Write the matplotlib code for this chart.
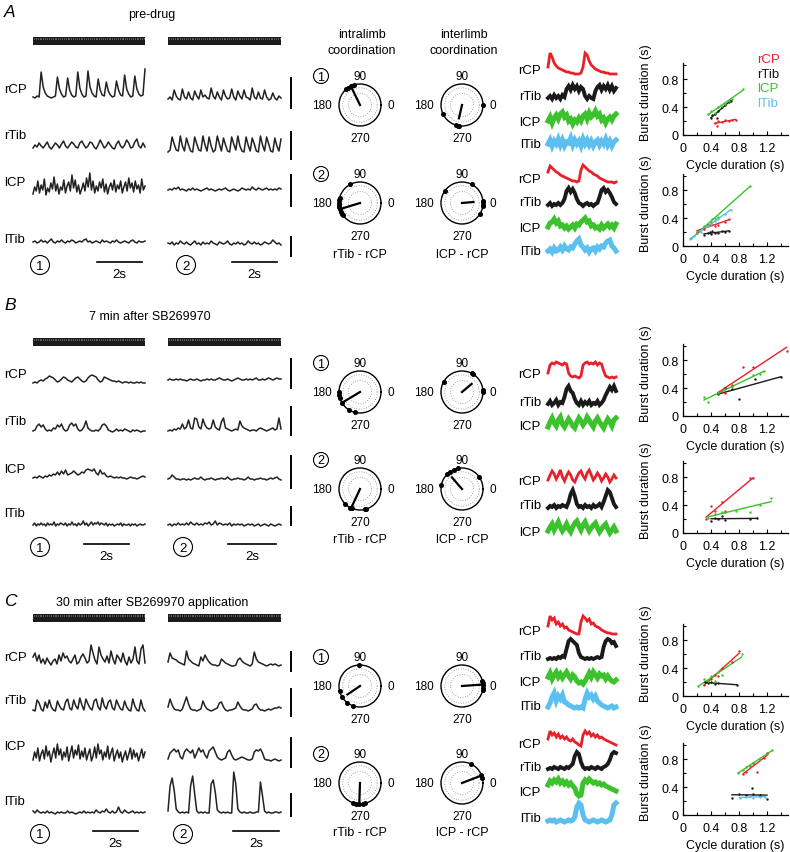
import numpy as np
import matplotlib.pyplot as plt
from matplotlib.patches import Circle, Rectangle

plt.rcParams['font.family'] = ['Liberation Sans', 'DejaVu Sans']
plt.rcParams['font.size'] = 8.5

W, H = 790, 853
RED, BLACK, GREEN, BLUE = '#e8202a', '#1a1a1a', '#3cc22c', '#5bc0f0'
muscles = ['rCP', 'rTib', 'lCP', 'lTib']
mcol = {'rCP': RED, 'rTib': BLACK, 'lCP': GREEN, 'lTib': BLUE}

# ---- raw EMG sweeps (height above baseline, px of the original figure) ----
a1_rcp = [2,1,3,2,27,12,6,3,2,1,2,3,22,10,5,2,3,21,9,4,2,3,27,11,5,2,3,28,12,6,3,2,20,9,4,3,17,8,4,2,3,18,9,4,3,24,10,5,2,3,23,10,5,3,4,30]
a1_rtib = [3,6,4,8,5,3,6,9,4,2,5,8,6,3,7,10,5,3,6,9,7,4,3,8,10,6,3,5,9,8,4,2,6,11,7,3,5,9,6,3,2,7,10,5,3,6,11,8,3,4,9,12,5,3,8,4]
a1_lcp = [5,12,8,18,6,14,9,20,4,11,7,16,10,22,8,15,5,12,9,19,6,13,17,8,24,11,19,7,14,5,10,16,8,21,12,26,9,18,6,13,8,17,11,20,7,15,5,12,16,9,19,7,14,10,18,6,12,17,8,21,11,16,7,18,10,14,6,20,9,13]
a1_ltib = [2,3,1,2,4,2,3,1,3,5,2,1,3,2,4,2,1,3,2,4,3,1,2,3,2,4,5,2,3,1,2,3,2,1,4,2,3,2,1,3,2,4,2,1,2,3,2,1,3,4,2,1,3,2,2,3]
a2_rcp = [3,5,2,12,6,3,2,13,5,3,10,4,2,11,6,3,12,5,7,4,3,14,6,3,10,5,2,12,6,3,4,13,5,2,11,6,3,12,5,4,2,14,5,3,10,4,3,12,5,2,3,9,4,2,6,4]
a2_rtib = [2,4,17,10,4,3,18,8,3,16,9,3,2,17,10,4,3,18,9,3,17,8,2,4,18,10,3,16,9,3,2,17,10,4,18,8,3,2,17,9,3,16,10,3,2,18,9,3,17,10,3,2,16,8,3,15]
a2_lcp = [2,3,2,4,3,5,2,3,2,1,3,2,4,2,3,2,1,2,3,4,2,3,2,1,2,3,2,3,4,2,1,2,3,2,1,2,4,3,2,3,2,5,3,2,4,3,2,3,4,2,3,2,3,2,4,3]
a2_ltib = [3,2,4,1,3,2,5,3,2,4,2,1,3,5,2,3,1,4,2,3,2,5,3,2,1,4,3,2,3,5,2,1,3,2,4,2,3,1,2,5,3,2,4,2,3,1,2,4,3,2,3,6,4,2,3,1]

b1_rcp = [0,1,0,2,3,2,4,5,7,6,5,3,1,2,4,6,5,3,2,1,3,5,6,4,2,1,2,5,7,8,7,6,3,1,2,6,5,4,3,2,2,1,2,1,0,1,1,0,1,0,0,1,0,1,0,0]
b1_rtib = [1,2,6,8,5,7,3,1,2,1,4,3,7,5,8,3,1,2,7,9,6,8,3,1,2,5,11,4,2,1,1,2,1,3,7,8,6,2,1,0,1,3,1,2,1,3,2,1,0,2,1,2,1,0,1,1]
b1_lcp = [1,2,1,3,2,1,3,2,4,3,5,4,7,4,8,5,9,4,5,6,8,6,4,5,7,6,9,10,9,8,10,6,4,9,5,6,3,2,3,2,1,2,1,2,1,1,0,1,2,1,1,0,1,2,3,2]
b1_ltib = [1,3,0,2,1,3,1,2,0,3,1,2,1,4,0,2,1,3,2,1,3,0,2,1,4,1,2,0,3,1,2,5,1,3,0,2,4,1,3,2,4,1,3,2,1,3,0,2,1,2,0,1,2,1,3,0,2,1,1,2,0,2,1,2,0,1,2,1,1,2]
b2_rcp = [1,2,1,1,2,1,2,1,1,0,1,2,1,1,2,1,0,1,1,2,1,2,1,1,2,3,2,1,1,2,1,0,1,2,3,2,1,1,2,1,2,1,2,3,1,1,2,1,2,3,2,1,2,3,2,2]
b2_rtib = [1,2,1,3,2,4,3,8,3,5,12,4,3,14,13,5,3,13,7,4,3,4,12,5,3,2,10,14,4,3,2,1,2,3,2,11,6,4,3,2,1,2,2,1,3,4,3,2,1,2,3,4,2,3,14,3]
b2_lcp = [1,2,5,3,1,1,0,1,1,0,1,0,1,2,1,1,3,1,0,1,1,2,1,0,1,1,2,1,1,3,1,0,1,1,2,1,1,0,1,3,1,1,0,1,1,2,1,1,0,1,2,1,2,3,1,0]
b2_ltib = [1,2,0,2,1,3,1,2,1,3,1,4,2,1,3,1,2,1,3,2,4,1,2,5,1,3,2,1,2,1,3,0,2,1,2,1,2,0,1,2,1,2,0,1,2,0,1,2,1,0,2,1,0,1,2,1]

c1_rcp = [10,14,6,12,4,8,3,9,5,2,6,8,3,12,6,14,9,11,6,4,8,12,3,5,10,13,9,4,6,22,14,7,3,20,12,8,5,11,4,16,8,3,12,9,5,14,6,2,10,4,8,20,6,3,18,22,4]
c1_rtib = [2,1,12,9,3,1,10,4,12,5,2,1,11,6,3,2,10,13,4,2,12,6,3,14,7,2,13,8,4,2,11,13,5,2,14,6,3,10,12,4,2,12,7,3,2,11,5,2,1,13,6,2,1,12,4,1]
c1_lcp = [6,14,8,18,5,12,16,7,20,10,15,4,12,18,8,22,11,17,6,14,9,19,5,13,20,8,16,11,21,7,15,9,18,6,12,17,5,10,19,8,22,12,16,6,14,9,20,7,13,18,5,11,16,8,14,4,10,15,6,12,18,7,16,9,13,5,11,17,8,14]
c1_ltib = [3,1,4,2,1,2,1,3,1,2,1,0,2,1,2,1,1,3,1,2,1,0,1,2,1,3,1,2,1,2,1,4,2,1,3,2,5,2,1,3,1,2,7,2,1,4,2,1,2,3,1,2,1,2,1,2]
c2_rcp = [5,14,9,8,7,5,4,3,2,16,8,6,4,3,2,1,10,6,12,8,5,3,2,2,1,2,8,6,4,3,2,1,1,2,7,9,6,4,3,2,1,3,15,8,5,4,3,2,1,2,3,2,3,2,1,2]
c2_rtib = [4,12,6,2,1,1,0,2,8,14,7,2,1,1,0,1,2,10,5,2,1,0,1,2,3,8,9,4,1,0,1,1,2,3,9,5,2,1,1,0,1,2,6,7,3,1,1,0,1,2,1,2,3,3,4,3]
c2_lcp = [2,8,10,12,9,11,4,2,9,12,10,8,11,3,8,13,9,11,6,3,10,12,14,9,4,2,1,2,3,9,11,6,2,1,2,3,4,3,2,1,1,2,9,11,10,12,8,2,1,1,0,1,2,1,0,1]
c2_ltib = [3,28,36,24,5,2,1,2,1,2,1,28,38,20,3,1,2,1,2,1,1,30,34,22,4,2,1,2,1,2,1,1,42,30,5,2,1,2,1,1,2,1,1,2,2,32,18,3,1,2,1,1,2,2,1,2]

# ---- overlaid cycle sweeps (two cycles each) ----
sa1 = {'rCP': [8,22,18,12,9,7,6,5,4,3,3,2,2,1,1,1,2,8,22,20,14,10,8,6,5,4,3,3,2,2,1,1,1,1],
       'rTib': [3,5,2,6,3,5,2,6,4,12,15,11,16,12,15,10,14,12,5,2,5,3,2,10,14,16,11,15,12,16,11,15,10,13],
       'lCP': [6,10,4,9,12,8,13,15,10,12,6,8,3,7,5,9,6,11,13,8,14,10,12,16,11,13,7,9,4,8,10,7,11,13],
       'lTib': [5,9,3,8,5,10,4,9,3,7,6,11,4,9,5,8,3,10,5,9,4,8,3,7,9,4,8,5,10,4,8,3,7,9]}
sa2 = {'rCP': [12,18,16,14,12,11,9,8,7,6,5,4,3,3,2,3,14,19,17,15,13,12,10,9,8,6,5,4,3,2,2,2,1,2],
       'rTib': [2,4,1,3,2,4,2,4,8,16,19,15,18,14,8,4,3,1,3,4,2,3,1,3,4,10,17,19,15,17,14,10,5,3],
       'lCP': [6,10,11,14,10,12,7,8,5,7,4,6,8,5,9,8,11,13,15,11,12,7,8,5,6,4,8,5,7,9,6,8,5,9],
       'lTib': [5,7,4,8,5,6,9,6,10,7,6,9,8,12,15,17,11,9,6,8,4,7,8,5,9,7,10,9,13,15,16,10,8,5]}
sb1 = {'rCP': [6,14,16,15,17,16,15,14,16,15,6,3,2,3,2,1,3,14,16,17,15,16,15,17,14,16,15,8,3,2,1,2,1,2],
       'rTib': [3,6,2,4,7,2,5,4,10,18,21,16,14,8,4,2,6,2,5,3,6,2,4,3,6,2,4,7,12,16,20,17,21,16],
       'lCP': [4,9,13,8,5,11,14,7,4,8,12,9,5,3,9,13,10,6,9,14,11,7,4,10,13,9,6,3,8,12,9,5,11,13]}
sb2 = {'rCP': [6,11,15,12,7,11,16,9,5,10,14,11,6,4,9,13,15,10,7,13,16,11,6,9,13,10,5,8,12,9,4,7,11,8],
       'rTib': [2,4,3,5,2,4,3,5,4,3,8,16,20,14,6,3,4,2,5,3,4,2,5,3,4,6,3,8,14,20,18,12,6,3],
       'lCP': [6,10,13,7,11,15,10,6,9,13,8,5,10,14,16,11,7,12,15,10,6,9,12,14,9,5,8,11,13,8,4,7,10,6]}
sc1 = {'rCP': [10,20,16,18,12,14,10,12,8,9,6,5,4,3,2,2,14,20,18,15,17,12,13,10,9,8,6,5,4,3,3,2,2,2],
       'rTib': [2,3,2,3,2,4,3,5,4,12,20,22,20,18,16,8,4,3,2,3,2,3,2,3,4,3,4,14,20,22,21,18,19,15],
       'lCP': [10,14,8,12,15,10,13,9,12,15,11,8,12,10,6,4,5,3,6,10,14,10,15,12,9,13,11,12,8,11,8,6,5,7],
       'lTib': [4,8,14,18,10,15,12,16,9,8,6,5,4,3,4,3,4,3,12,18,14,16,12,15,10,8,6,5,4,3,4,5,3,4]}
sc2 = {'rCP': [10,18,14,16,12,15,11,13,10,12,9,8,10,7,6,4,3,14,18,15,17,13,15,12,14,11,12,10,9,8,7,6,5,4],
       'rTib': [3,4,3,5,4,3,5,4,3,5,4,6,8,16,20,18,10,5,3,4,3,5,4,3,5,4,3,5,6,8,12,18,20,19],
       'lCP': [12,16,14,17,15,18,14,16,13,15,12,14,11,9,3,1,2,14,17,15,18,16,14,15,13,14,12,13,11,10,9,8,7,6],
       'lTib': [2,3,2,3,1,2,3,2,1,2,3,2,3,6,16,20,18,8,3,2,1,2,3,2,1,2,3,2,1,2,3,8,18,20]}

# ---- phase (deg) of each cycle and mean vector (angle, length) ----
pa1 = ([108, 115, 125, 132], (116, 0.93), [0, 206, 252, 258, 263], (257, 0.65))
pa2 = ([118, 165, 172, 180, 186, 192, 198, 204, 210, 215], (197, 0.95), [145, 62, 355, 2, 6, 352, 330], (5, 0.55))
pb1 = ([180, 188, 196, 212, 238, 255], (211, 0.95), [62, 58, 5, 0, 150], (40, 0.6))
pb2 = ([225, 243, 248, 285, 288], (245, 0.95), [100, 112, 125, 135, 168, 35], (131, 0.73))
pc1 = ([92, 195, 212, 232, 250], (214, 0.72), [15, 8, 2, 355, 348], (4, 1.0))
pc2 = ([250, 258, 268, 278, 283], (268, 1.0), [65, 22, 15], (21, 1.0))

# ---- cycle duration vs burst duration (s) ----
da1 = {'rCP': ([0.45, 0.48, 0.5, 0.55, 0.6, 0.65, 0.7, 0.75], [0.17, 0.13, 0.2, 0.19, 0.21, 0.2, 0.22, 0.21]),
       'rTib': ([0.4, 0.42, 0.45, 0.48, 0.5, 0.55, 0.6, 0.65, 0.68], [0.25, 0.28, 0.3, 0.25, 0.35, 0.4, 0.43, 0.47, 0.48]),
       'lCP': ([0.36, 0.4, 0.45, 0.5, 0.55, 0.6, 0.65, 0.7, 0.85], [0.3, 0.35, 0.32, 0.4, 0.42, 0.45, 0.48, 0.52, 0.66])}
da2 = {'rCP': ([0.2, 0.3, 0.35, 0.4, 0.45, 0.5, 0.6, 0.65], [0.2, 0.25, 0.3, 0.32, 0.28, 0.3, 0.35, 0.38]),
       'rTib': ([0.3, 0.35, 0.38, 0.4, 0.42, 0.45, 0.5, 0.55, 0.6, 0.65], [0.16, 0.18, 0.2, 0.17, 0.22, 0.19, 0.18, 0.21, 0.2, 0.22]),
       'lCP': ([0.12, 0.2, 0.3, 0.35, 0.4, 0.42, 0.45, 0.5, 0.95], [0.12, 0.18, 0.28, 0.3, 0.35, 0.38, 0.4, 0.42, 0.86]),
       'lTib': ([0.1, 0.15, 0.25, 0.35, 0.4, 0.45, 0.5, 0.6, 0.68], [0.1, 0.14, 0.2, 0.28, 0.32, 0.36, 0.38, 0.46, 0.52])}
db1 = {'rCP': ([0.5, 0.55, 0.6, 0.7, 0.85, 1.0, 1.48], [0.33, 0.35, 0.33, 0.45, 0.7, 0.7, 0.93]),
       'rTib': ([0.5, 0.6, 0.7, 0.8, 1.03, 1.4], [0.32, 0.4, 0.38, 0.25, 0.53, 0.56]),
       'lCP': ([0.3, 0.35, 0.5, 0.6, 0.7, 1.0, 1.1, 1.15], [0.27, 0.2, 0.33, 0.38, 0.42, 0.58, 0.6, 0.64])}
db2 = {'rCP': ([0.33, 0.4, 0.45, 0.55, 0.6, 0.95, 1.0], [0.2, 0.38, 0.32, 0.45, 0.32, 0.78, 0.79]),
       'rTib': ([0.4, 0.45, 0.5, 0.55, 0.6, 0.95, 1.06], [0.17, 0.22, 0.2, 0.25, 0.19, 0.2, 0.21]),
       'lCP': ([0.35, 0.45, 0.55, 0.6, 0.75, 0.95, 1.1, 1.26], [0.22, 0.27, 0.3, 0.3, 0.32, 0.3, 0.4, 0.5])}
dc1 = {'rCP': ([0.3, 0.35, 0.4, 0.45, 0.5, 0.55, 0.7, 0.8], [0.16, 0.22, 0.25, 0.3, 0.28, 0.4, 0.48, 0.65]),
       'rTib': ([0.31, 0.35, 0.4, 0.45, 0.5, 0.77], [0.2, 0.18, 0.2, 0.17, 0.19, 0.16]),
       'lCP': ([0.22, 0.3, 0.35, 0.4, 0.45, 0.5, 0.55, 0.84], [0.15, 0.25, 0.22, 0.28, 0.22, 0.35, 0.3, 0.6])}
dc2 = {'rCP': ([0.86, 0.9, 0.95, 1.0, 1.05, 1.15, 1.2], [0.58, 0.62, 0.7, 0.75, 0.62, 0.82, 0.88]),
       'rTib': ([0.7, 0.8, 0.9, 0.98, 1.0, 1.1, 1.2], [0.24, 0.3, 0.28, 0.38, 0.3, 0.28, 0.23]),
       'lCP': ([0.79, 0.85, 0.9, 0.95, 1.0, 1.1, 1.2, 1.27], [0.6, 0.65, 0.68, 0.7, 0.74, 0.8, 0.87, 0.93]),
       'lTib': ([0.81, 0.9, 0.95, 1.0, 1.1, 1.17], [0.24, 0.26, 0.27, 0.25, 0.26, 0.26])}

# ---- layout (px) ----
tags = ['A', 'B', 'C']
titles = ['pre-drug', '7 min after SB269970', '30 min after SB269970 application']
tag_y = [12, 305, 602]
title_xy = [(152, 15), (150, 317), (152, 603)]
stim_y = [38, 339, 615]
label_y = [[90, 136, 183, 240], [375, 422, 470, 514], [658, 701, 747, 802]]
base_y = [[[100, 152, 200, 245], [103, 155, 193, 247]],
          [[384, 433, 480, 527], [382, 433, 481, 527]],
          [[668, 713, 767, 815], [668, 712, 762, 815]]]
sbar = [[(79, 109), (133, 160), (176, 207), (238, 257)],
        [(360, 389), (408, 436), (457, 489), (508, 526)],
        [(653, 672), (690, 717), (739, 768), (795, 817)]]
bot_y = [266, 548, 835]
tbar = [[(97, 142), (232, 277)], [(84, 129), (228, 276)], [(93, 138), (233, 279)]]
traces = [[[a1_rcp, a1_rtib, a1_lcp, a1_ltib], [a2_rcp, a2_rtib, a2_lcp, a2_ltib]],
          [[b1_rcp, b1_rtib, b1_lcp, b1_ltib], [b2_rcp, b2_rtib, b2_lcp, b2_ltib]],
          [[c1_rcp, c1_rtib, c1_lcp, c1_ltib], [c2_rcp, c2_rtib, c2_lcp, c2_ltib]]]
cols_x = [(33, 145), (168, 281)]
polar_y = [[106, 204], [393, 490], [687, 784]]
polar_lab_y = [255, 540, 833]
polars = [[pa1, pa2], [pb1, pb2], [pc1, pc2]]
stacks = [[sa1, sa2], [sb1, sb2], [sc1, sc2]]
stack_base = [[[76, 102, 128, 150], [185, 208, 234, 257]],
              [[380, 408, 432], [487, 511, 538]],
              [[637, 662, 688, 712], [750, 773, 798, 824]]]
stack_lw = {'rCP': 2.0, 'rTib': 2.8, 'lCP': 3.6, 'lTib': 3.6}
durs = [[da1, da2], [db1, db2], [dc1, dc2]]
scat_top = [[64, 175], [345, 462], [625, 744]]

fig = plt.figure(figsize=(W / 100, H / 100), dpi=100)
ov = fig.add_axes([0, 0, 1, 1])
ov.set_xlim(0, W)
ov.set_ylim(H, 0)
ov.axis('off')


def rect(x0, y0, w, h):
    return [x0 / W, 1 - (y0 + h) / H, w / W, h / H]


def circled(x, y, s, r, fs=9):
    ov.add_patch(Circle((x, y), r, fill=False, lw=0.8, ec='k'))
    ov.text(x, y + 0.5, s, ha='center', va='center', fontsize=fs)


def stim_bar(x0, x1, y):
    ov.add_patch(Rectangle((x0, y), x1 - x0, 8, color='#1c1c1c', lw=0))
    ov.vlines(np.linspace(x0 + 1, x1 - 1, 60), y + 0.6, y + 2.4, color='white', lw=0.4)


def polar(cx, cy, dots, vec):
    ax = fig.add_axes(rect(cx - 21, cy - 21, 42, 42), projection='polar')
    ax.patch.set_alpha(0)
    ax.set_ylim(0, 1)
    ax.set_thetagrids([0, 90, 180, 270], ['', '', '', ''])
    ax.xaxis.grid(False)
    ax.set_rgrids([0.55, 0.82], labels=[])
    ax.yaxis.grid(True, ls=(0, (1, 2)), color='#888', lw=0.6)
    ax.spines['polar'].set_linewidth(1.0)
    for ang, r, s in [(90, 1.4, '90'), (270, 1.58, '270'), (180, 1.8, '180'), (0, 1.45, '0')]:
        ax.text(np.deg2rad(ang), r, s, ha='center', va='center', fontsize=8.5, clip_on=False)
    th = np.deg2rad(dots)
    ax.plot(th, np.ones_like(th), 'o', ms=2.6, color='k', clip_on=False)
    ax.plot([np.deg2rad(vec[0])] * 2, [0, vec[1]], color='k', lw=1.6)


def scatter(top, data, legend=False):
    ax = fig.add_axes(rect(683, top, 105, 72))
    ax.patch.set_alpha(0)
    for m, (x, y) in data.items():
        ax.scatter(x, y, s=3, color=mcol[m], lw=0, zorder=3)
        k = np.polyfit(x, y, 1)
        xx = np.array([min(x), max(x)])
        ax.plot(xx, np.polyval(k, xx), color=mcol[m], lw=1.0)
    ax.set_xlim(0, 1.5)
    ax.set_ylim(0, 1.03)
    ax.set_xticks([0, 0.4, 0.8, 1.2])
    ax.set_xticklabels(['0', '0.4', '0.8', '1.2'])
    ax.set_yticks([0, 0.4, 0.8])
    ax.set_yticklabels(['0', '0.4', '0.8'])
    ax.set_xticks(np.arange(0, 1.5, 0.2), minor=True)
    ax.set_yticks([0.2, 0.6, 1.0], minor=True)
    ax.tick_params(which='both', direction='in', labelsize=9, width=0.8)
    ax.tick_params(axis='x', pad=5)
    ax.tick_params(axis='y', pad=3)
    ax.tick_params(which='major', length=3)
    ax.tick_params(which='minor', length=2)
    for s in ['top', 'right']:
        ax.spines[s].set_visible(False)
    for s in ['left', 'bottom']:
        ax.spines[s].set_linewidth(0.9)
    ax.set_xlabel('Cycle duration (s)', fontsize=9)
    ax.set_ylabel('Burst duration (s)', fontsize=9)
    ax.xaxis.set_label_coords(0.5, -0.33)
    ax.yaxis.set_label_coords(-0.3, 0.6)
    if legend:
        for i, m in enumerate(muscles):
            ov.text(757, 60 + 14.5 * i, m, color=mcol[m], fontsize=9.5, va='center')


for p in range(3):
    ov.text(4, tag_y[p], tags[p], fontsize=12.5, style='italic', va='center')
    ov.text(*title_xy[p], titles[p], fontsize=9, ha='center', va='center')
    for j, m in enumerate(muscles):
        ov.text(4, label_y[p][j], m, fontsize=9.5, va='center')
        ov.plot([291, 291], sbar[p][j], color='k', lw=1.4)
    for c in range(2):
        x0, x1 = cols_x[c]
        stim_bar(x0, x1, stim_y[p])
        for j in range(4):
            v = np.asarray(traces[p][c][j], float)
            ov.plot(np.linspace(x0, x1, len(v)), base_y[p][c][j] - v, color='#222', lw=1.1)
        circled(40 + 143 * c if p else 40 + 146 * c, bot_y[p], str(c + 1), 9.5, 9.5)
        bx = tbar[p][c]
        ov.plot(bx, [bot_y[p] - 3] * 2, color='k', lw=1.2)
        ov.text(sum(bx) / 2, bot_y[p] + 9, '2s', ha='center', va='center', fontsize=9.5)

    # phase plots
    for r in range(2):
        cy = polar_y[p][r]
        intra, ivec, inter, evec = polars[p][r]
        polar(360, cy, intra, ivec)
        polar(462, cy, inter, evec)
        circled(321, cy - 29, str(r + 1), 7.5, 9)
    ov.text(360, polar_lab_y[p], 'rTib - rCP', ha='center', va='center', fontsize=9)
    ov.text(462, polar_lab_y[p], 'lCP - rCP', ha='center', va='center', fontsize=9)

    # overlaid sweeps
    for g in range(2):
        st = stacks[p][g]
        for j, m in enumerate(st):
            v = np.asarray(st[m], float)
            b = stack_base[p][g][j]
            ov.plot(np.linspace(548, 616, len(v)), b - v, color=mcol[m], lw=stack_lw[m],
                    solid_joinstyle='miter')
            ov.text(541, b - 5, m, ha='right', va='center', fontsize=9.5)

    for g in range(2):
        scatter(scat_top[p][g], durs[p][g], legend=(p == 0 and g == 0))

ov.text(362, 35, 'intralimb', ha='center', va='center', fontsize=9)
ov.text(362, 51, 'coordination', ha='center', va='center', fontsize=9)
ov.text(464, 35, 'interlimb', ha='center', va='center', fontsize=9)
ov.text(464, 51, 'coordination', ha='center', va='center', fontsize=9)

fig.savefig('out.png', dpi=100)
